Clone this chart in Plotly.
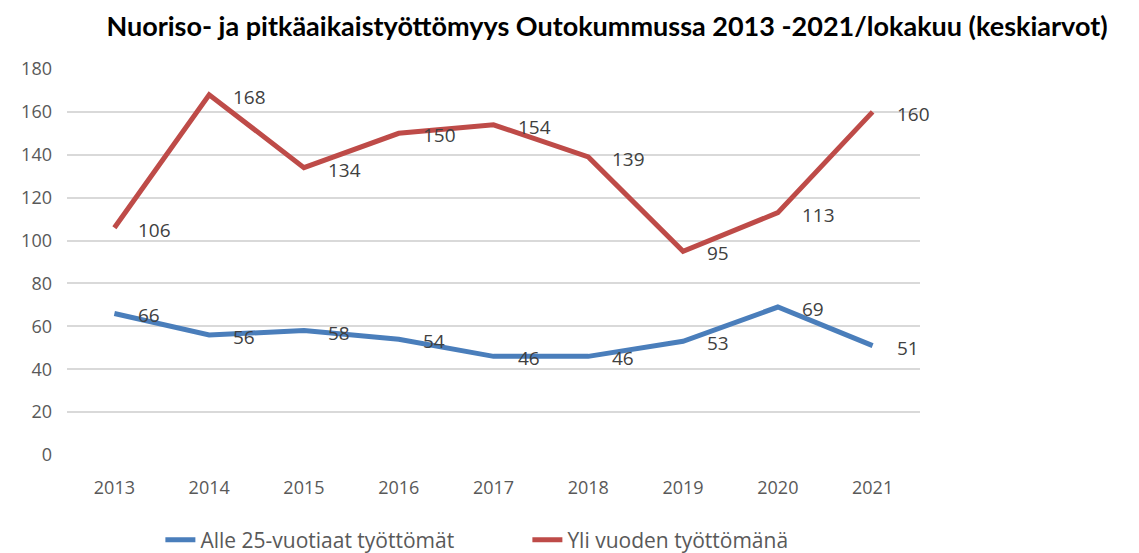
import plotly.graph_objects as go

years = ["2013", "2014", "2015", "2016", "2017", "2018", "2019", "2020", "2021"]
alle_25 = [66, 56, 58, 54, 46, 46, 53, 69, 51]
yli_vuoden = [106, 168, 134, 150, 154, 139, 95, 113, 160]
y_ticks = [0, 20, 40, 60, 80, 100, 120, 140, 160, 180]

label_font = dict(family="Open Sans", size=19, color="#404040")

fig = go.Figure()
fig.add_trace(go.Scatter(
    x=years, y=alle_25,
    name="Alle 25-vuotiaat työttömät",
    mode="lines",
    line=dict(color="#4A7EBB", width=5),
    cliponaxis=False
))
fig.add_trace(go.Scatter(
    x=years, y=yli_vuoden,
    name="Yli vuoden työttömänä",
    mode="lines",
    line=dict(color="#BE4B48", width=5),
    cliponaxis=False
))

# data labels to the right of each point (category index as x)
for series in (alle_25, yli_vuoden):
    for i, v in enumerate(series):
        fig.add_annotation(
            x=i, y=v, text=str(v), showarrow=False,
            xanchor="left", yanchor="middle", xshift=22, yshift=-2,
            font=label_font
        )

# page body adds an 8px offset, margins compensate for it
fig.update_layout(
    width=1139, height=553,
    margin=dict(l=59, r=227, t=61, b=106),
    paper_bgcolor="white",
    plot_bgcolor="white",
    title=dict(
        text="<b>Nuoriso- ja pitkäaikaistyöttömyys Outokummussa 2013 -2021/lokakuu (keskiarvot)</b>",
        x=599 / 1139, xanchor="center", y=0.966, yanchor="middle",
        font=dict(family="Lato", size=27, color="#000000")
    ),
    showlegend=True,
    legend=dict(
        orientation="h", yref="container", xref="container",
        x=0.456, xanchor="center", y=0.038, yanchor="middle",
        font=dict(family="Open Sans", size=21, color="#595959"),
        entrywidth=322
    ),
    xaxis=dict(
        type="category", range=[-0.5, 8.5],
        showgrid=False, showline=False, ticks="",
        tickfont=dict(family="Open Sans", size=18, color="#595959"),
        ticklabelstandoff=20
    ),
    yaxis=dict(
        range=[0, 180], tickvals=y_ticks,
        showgrid=True, gridcolor="#D9D9D9", gridwidth=1.5,
        zeroline=False, showline=False, ticks="",
        tickfont=dict(family="Open Sans", size=18, color="#595959"),
        ticklabelstandoff=14
    )
)

fig.write_html("out.html")
